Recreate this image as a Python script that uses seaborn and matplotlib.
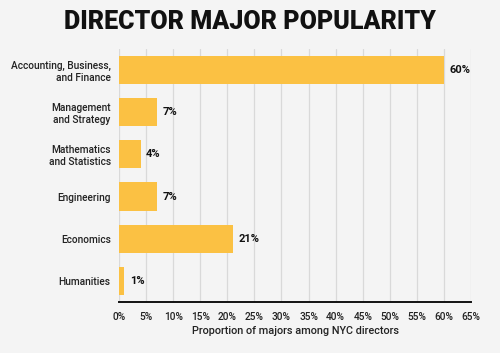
import numpy as np
import pandas as pd
import seaborn as sns
import matplotlib.pyplot as plt
from matplotlib.ticker import MultipleLocator, FuncFormatter

# data
majors = ['Accounting, Business,\nand Finance', 'Management\nand Strategy',
          'Mathematics\nand Statistics', 'Engineering', 'Economics', 'Humanities']
shares = [60, 7, 4, 7, 21, 1]

df = pd.DataFrame({'major': majors, 'share': shares})

bg = '#f4f4f4'
sns.set_theme(style='white', rc={'axes.facecolor': bg, 'figure.facecolor': bg})
plt.rcParams['font.family'] = ['Roboto', 'DejaVu Sans']

fig = plt.figure(figsize=(5, 3.53), dpi=100)
ax = fig.add_axes([0.238, 0.145, 0.704, 0.716])

sns.barplot(data=df, x='share', y='major', color='#fbc143', saturation=1,
            width=0.67, linewidth=0, ax=ax, zorder=3)

for i, v in enumerate(shares):
    ax.text(v + 1.0, i, f'{v}%', va='center', ha='left', fontsize=8,
            fontweight='bold', color='#111111')

ax.set_xlim(0, 65)
ax.set_ylim(5.5, -0.5)
ax.xaxis.set_major_locator(MultipleLocator(5))
ax.xaxis.set_major_formatter(FuncFormatter(lambda x, p: f'{x:.0f}%'))
ax.grid(axis='x', color='#d9d9d9', linewidth=0.9, zorder=0)
ax.set_axisbelow(True)

for s in ['top', 'right', 'left']:
    ax.spines[s].set_visible(False)
ax.spines['bottom'].set_color('#111111')
ax.spines['bottom'].set_linewidth(1.4)

ax.tick_params(axis='both', length=0, labelsize=7.3, colors='#222222')
ax.tick_params(axis='x', pad=7)
ax.tick_params(axis='y', pad=6)
for lbl in ax.get_xticklabels() + ax.get_yticklabels():
    lbl.set_fontweight('medium')
ax.set_ylabel('')
ax.set_xlabel('Proportion of majors among NYC directors', fontsize=7.8,
              fontweight='medium', color='#222222', labelpad=3)

fig.text(0.5, 0.937, 'DIRECTOR MAJOR POPULARITY', ha='center', va='center',
         fontsize=18, fontweight='heavy', color='#111111')

plt.savefig('out.png', dpi=100, facecolor=bg)
plt.close()
